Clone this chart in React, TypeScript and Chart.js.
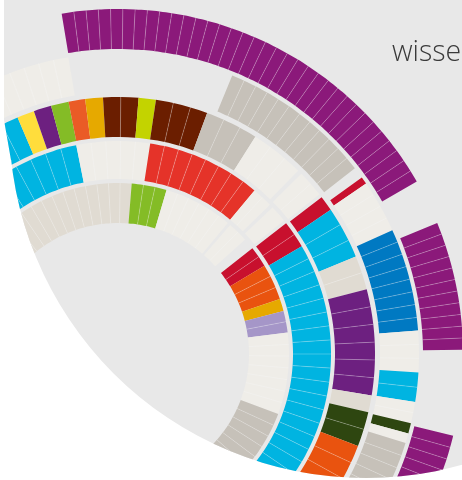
import React, { useEffect, useRef } from 'react';
import { Chart, ArcElement, DoughnutController } from 'chart.js';

Chart.register(ArcElement, DoughnutController);

const palette: Record<string, string> = {
  magenta: '#8b197a',
  purple: '#6d2080',
  cyan: '#00b4e1',
  blue: '#0079c2',
  yellow: '#ffdd3c',
  green: '#84bc26',
  lime: '#c3d300',
  orange: '#e9530f',
  orangeLight: '#ea5b26',
  amber: '#e6a900',
  brown: '#6b1e00',
  red: '#c8102e',
  redBright: '#e53329',
  lavender: '#a596c8',
  darkGreen: '#2e4610',
  gray: '#c6c1b9',
  beige: '#e0dbd2',
  light: '#efede8',
};

// angular spans (degrees), colour keys (null = empty) and number of cells per segment
// Ring A (innermost)
const ringASpans = [54.6, 11.9, 23.5, 1.0, 7.0, 3.8, 7.1, 12.3, 4.2, 7.4, 27.7, 45];
const ringAColors = ['beige', 'green', 'light', null, 'light', null, 'red', 'orange', 'amber', 'lavender', 'light', 'gray'];
const ringACells = [14, 3, 6, 0, 2, 0, 2, 3, 1, 2, 7, 11];

// Ring B
const ringBSpans = [38.7, 20.0, 31.15, 5.65, 1.0, 4.7, 0.9, 7.5, 95];
const ringBColors = ['cyan', 'light', 'redBright', 'light', null, 'light', null, 'red', 'cyan'];
const ringBCells = [9, 5, 8, 2, 0, 1, 0, 2, 25];

// Ring C
const ringCSpans = [27, 3.9, 4.0, 4.0, 3.75, 4.0, 7.95, 3.9, 11.8, 12.0, 12.2, 1.0, 6.1, 0.8, 3.45, 11.85, 7.7, 23.9, 3.8, 7.9, 40];
const ringCColors = ['cyan', 'yellow', 'purple', 'green', 'orangeLight', 'amber', 'brown', 'lime', 'brown', 'gray', 'light', null, 'light', null, 'red', 'cyan', 'beige', 'purple', 'beige', 'darkGreen', 'orange'];
const ringCCells = [7, 1, 1, 1, 1, 1, 2, 1, 3, 3, 3, 0, 2, 0, 1, 3, 2, 6, 1, 2, 10];

// Ring D
const ringDSpans = [40.5, 31.8, 29.6, 2.2, 1.4, 10.2, 19.8, 8.0, 5.7, 4.1, 2.0, 1.9, 45];
const ringDColors = ['light', null, 'gray', null, 'red', 'light', 'blue', 'light', 'cyan', 'light', 'darkGreen', 'light', 'gray'];
const ringDCells = [14, 0, 12, 0, 1, 4, 8, 3, 2, 2, 1, 1, 18];

// Ring E (outermost)
const ringESpans = [40.6, 69.4, 7.7, 21.6, 14.4, 46];
const ringEColors = [null, 'magenta', null, 'magenta', null, 'magenta'];
const ringECells = [0, 34, 0, 11, 0, 23];

const TITLE = 'wissen';

const CLEAR = 'rgba(0,0,0,0)';
const BG_GRAY = '#e8e8e8';

function buildRing(spans: number[], colors: (string | null)[], cells: number[], weight: number) {
  const data: number[] = [];
  const bg: string[] = [];
  const lines: number[] = [];
  spans.forEach((s, i) => {
    const c = colors[i];
    const n = c ? Math.max(cells[i], 1) : 1;
    for (let k = 0; k < n; k++) {
      data.push(s / n);
      bg.push(c ? palette[c] : CLEAR);
      lines.push(c && k > 0 ? 1 : 0);
    }
  });
  const used = data.reduce((a, b) => a + b, 0);
  if (used < 360) {
    data.push(360 - used);
    bg.push(CLEAR);
    lines.push(0);
  }
  return { data, backgroundColor: bg, cellLine: lines, weight, borderWidth: 0 };
}

function spacer(weight: number) {
  return { data: [360], backgroundColor: [CLEAR], cellLine: [0], weight, borderWidth: 0 };
}

function regionPath(ctx: CanvasRenderingContext2D) {
  ctx.beginPath();
  ctx.arc(366, 121, 357, 0, Math.PI * 2);
  ctx.moveTo(4, -10);
  ctx.lineTo(470, -10);
  ctx.lineTo(470, 121);
  ctx.lineTo(11, 160);
  ctx.lineTo(4, 120);
  ctx.closePath();
}

const backdrop = {
  id: 'backdrop',
  beforeDraw(chart: any) {
    const ctx: CanvasRenderingContext2D = chart.ctx;
    ctx.save();
    ctx.fillStyle = '#ffffff';
    ctx.fillRect(0, 0, chart.width, chart.height);
    regionPath(ctx);
    ctx.fillStyle = BG_GRAY;
    ctx.fill();
    ctx.restore();
  },
  beforeDatasetsDraw(chart: any) {
    const ctx: CanvasRenderingContext2D = chart.ctx;
    ctx.save();
    regionPath(ctx);
    ctx.clip();
  },
  afterDatasetsDraw(chart: any) {
    const ctx: CanvasRenderingContext2D = chart.ctx;
    chart.data.datasets.forEach((ds: any, di: number) => {
      const lines = ds.cellLine;
      if (!lines) return;
      const meta = chart.getDatasetMeta(di);
      meta.data.forEach((arc: any, j: number) => {
        if (!lines[j]) return;
        const p = arc.getProps(['x', 'y', 'startAngle', 'innerRadius', 'outerRadius'], true);
        const cs = Math.cos(p.startAngle);
        const sn = Math.sin(p.startAngle);
        ctx.beginPath();
        ctx.moveTo(p.x + cs * p.innerRadius, p.y + sn * p.innerRadius);
        ctx.lineTo(p.x + cs * p.outerRadius, p.y + sn * p.outerRadius);
        ctx.strokeStyle = 'rgba(255,255,255,0.28)';
        ctx.lineWidth = 0.9;
        ctx.stroke();
      });
    });
    ctx.restore();
  },
};

export default function App() {
  const ref = useRef<HTMLCanvasElement | null>(null);
  useEffect(() => {
    if (!ref.current) return;
    const datasets: any[] = [
      buildRing(ringESpans, ringEColors, ringECells, 40),
      spacer(4),
      buildRing(ringDSpans, ringDColors, ringDCells, 39),
      spacer(5),
      buildRing(ringCSpans, ringCColors, ringCCells, 40),
      spacer(4),
      buildRing(ringBSpans, ringBColors, ringBCells, 38),
      spacer(4),
      buildRing(ringASpans, ringAColors, ringACells, 40),
    ];
    const chart = new Chart(ref.current, {
      type: 'doughnut',
      data: { datasets },
      options: {
        responsive: false,
        animation: false,
        devicePixelRatio: 1,
        events: [],
        rotation: -50,
        circumference: 360,
        radius: 345,
        cutout: '37.971%',
        layout: { padding: { left: 0, right: 226, top: 228, bottom: 0 } },
        elements: { arc: { borderWidth: 0, hoverOffset: 0 } },
      } as any,
      plugins: [backdrop],
    });
    return () => chart.destroy();
  }, []);

  return (
    <div
      style={{
        position: 'fixed',
        left: 0,
        top: 0,
        width: 462,
        height: 480,
        overflow: 'hidden',
        background: '#ffffff',
      }}
    >
      <canvas ref={ref} width={462} height={480} style={{ position: 'absolute', left: 0, top: 0, width: 462, height: 480 }} />
      <div
        style={{
          position: 'absolute',
          left: 392,
          top: 31,
          fontFamily: '"Open Sans", sans-serif',
          fontWeight: 300,
          fontSize: 28.5,
          lineHeight: 'normal',
          color: '#3a3a3a',
          whiteSpace: 'nowrap',
        }}
      >
        {TITLE}
      </div>
    </div>
  );
}
